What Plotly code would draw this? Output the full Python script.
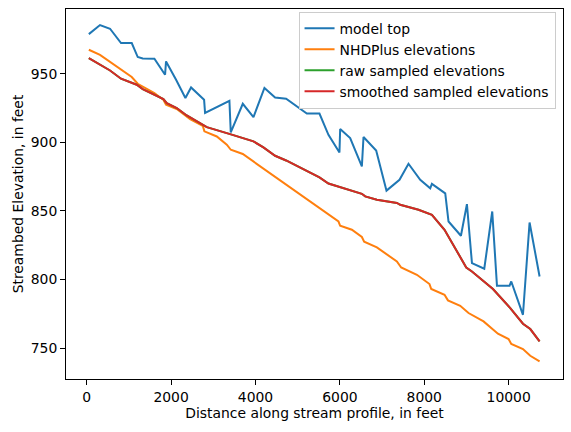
import plotly.graph_objects as go

# model top
model_x = [50, 315, 553, 813, 1067, 1209, 1328, 1604, 1857, 1880, 2118, 2339, 2473, 2782, 2805,
           3382, 3414, 3699, 3952, 4212, 4465, 4726, 5217, 5516, 5729, 5990, 6007, 6244, 6521,
           6560, 6860, 7105, 7413, 7626, 7904, 8141, 8181, 8497, 8575, 8869, 9011, 9130, 9422,
           9611, 9723, 10021, 10062, 10339, 10496, 10733]
model_y = [978.9, 985.5, 982.8, 972.4, 972.4, 962.2, 961.2, 961.0, 949.3, 959.0, 945.6, 932.3,
           940.0, 931.0, 921.4, 930.3, 907.2, 928.1, 918.4, 939.6, 932.7, 931.8, 921.0, 921.0,
           905.5, 892.6, 909.7, 903.1, 882.4, 903.9, 894.1, 864.8, 872.7, 884.4, 872.7, 866.5,
           869.7, 862.8, 842.3, 831.9, 855.0, 812.0, 807.9, 849.6, 795.5, 795.5, 798.6, 774.3,
           841.6, 802.2]

# NHDPlus elevations
nhd_x = [50, 315, 1067, 1209, 1604, 1817, 1880, 2134, 2450, 2750, 2789, 3083, 3320, 3415, 3699,
         5058, 5967, 6007, 6284, 6521, 6576, 6877, 7351, 7453, 7825, 8124, 8165, 8480, 8561,
         8852, 9049, 9405, 9746, 9998, 10062, 10339, 10512, 10733]
nhd_y = [967.5, 963.8, 947.6, 942.7, 935.9, 931.0, 927.4, 924.3, 917.0, 912.1, 908.0, 904.3,
         898.3, 894.6, 891.5, 861.8, 842.3, 839.2, 836.3, 831.0, 827.6, 823.4, 813.2, 808.8,
         803.5, 796.7, 793.1, 788.9, 784.8, 780.9, 775.6, 769.5, 760.5, 756.6, 753.0, 749.3,
         744.4, 740.3]

# raw / smoothed sampled elevations
samp_x = [50, 553, 813, 1186, 1328, 1817, 1897, 2134, 2371, 2765, 2846, 3398, 3952, 4188, 4465,
          4726, 5217, 5516, 5729, 6521, 6600, 6877, 7351, 7430, 7864, 8181, 8480, 8995, 9130,
          9405, 9628, 10038, 10339, 10512, 10733]
raw_y = [961.4, 952.4, 946.4, 942.0, 938.8, 931.6, 928.6, 925.0, 919.6, 912.8, 911.1, 906.0,
         900.7, 896.3, 890.2, 886.8, 878.8, 874.4, 870.0, 862.5, 860.6, 858.2, 855.8, 854.5,
         850.9, 847.2, 836.3, 808.8, 805.9, 798.6, 793.1, 779.2, 767.8, 763.9, 754.9]
smooth_y = list(raw_y)

x_ticks = [0, 2000, 4000, 6000, 8000, 10000]
x_tick_labels = ["0", "2000", "4000", "6000", "8000", "10000"]
y_ticks = [750, 800, 850, 900, 950]
y_tick_labels = ["750", "800", "850", "900", "950"]

FONT = "DejaVu Sans"
FS = 13.9

fig = go.Figure()
fig.add_trace(go.Scatter(x=model_x, y=model_y, mode="lines", name="model top",
                         line=dict(color="#1f77b4", width=2)))
fig.add_trace(go.Scatter(x=nhd_x, y=nhd_y, mode="lines", name="NHDPlus elevations",
                         line=dict(color="#ff7f0e", width=2)))
fig.add_trace(go.Scatter(x=samp_x, y=raw_y, mode="lines", name="raw sampled elevations",
                         line=dict(color="#2ca02c", width=2)))
fig.add_trace(go.Scatter(x=samp_x, y=smooth_y, mode="lines", name="smoothed sampled elevations",
                         line=dict(color="#d62728", width=2)))

axis_common = dict(showgrid=False, zeroline=False, showline=True, mirror=True,
                   linecolor="black", linewidth=1, ticks="outside", ticklen=5,
                   tickwidth=1, tickcolor="black", automargin=False,
                   tickfont=dict(family=FONT, size=FS, color="black"))

fig.update_layout(
    width=571, height=432,
    margin=dict(l=66, r=8, t=9, b=53),
    paper_bgcolor="white", plot_bgcolor="white",
    font=dict(family=FONT, size=FS, color="black"),
    showlegend=True,
    legend=dict(x=0.985, y=0.993, xanchor="right", yanchor="top",
                bordercolor="#cccccc", borderwidth=1, bgcolor="rgba(255,255,255,0.8)",
                font=dict(family=FONT, size=FS, color="black"),
                tracegroupgap=0),
    xaxis=dict(range=[-491, 11288], tickvals=x_ticks, ticktext=x_tick_labels,
               title=dict(text="Distance along stream profile, in feet",
                          font=dict(family=FONT, size=FS), standoff=4),
               **axis_common),
    yaxis=dict(range=[727.5, 997.2], tickvals=y_ticks, ticktext=y_tick_labels,
               title=dict(text="Streambed Elevation, in feet",
                          font=dict(family=FONT, size=FS), standoff=3),
               **axis_common),
)

fig.write_html("out.html", config={"displayModeBar": False},
               post_script="document.body.style.margin='0';")
